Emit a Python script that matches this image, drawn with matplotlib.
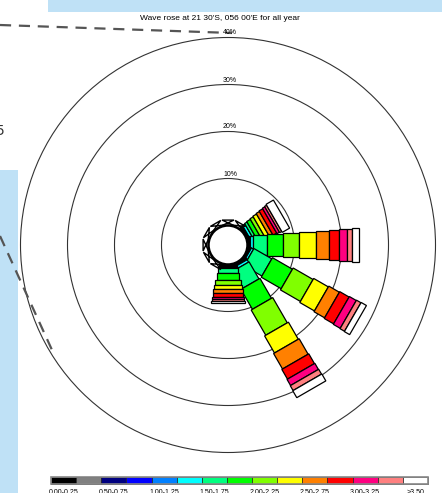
import numpy as np
import matplotlib.pyplot as plt
from matplotlib.patches import Polygon, Circle, Rectangle

# wave height bins (m) and their colours
bin_labels = ['0.00-0.25', '0.25-0.50', '0.50-0.75', '0.75-1.00', '1.00-1.25',
              '1.25-1.50', '1.50-1.75', '1.75-2.00', '2.00-2.25', '2.25-2.50',
              '2.50-2.75', '2.75-3.00', '3.00-3.25', '3.25-3.50', '>3.50']
bin_colors = ['#000000', '#808080', '#000080', '#0000ff', '#0080ff',
              '#00ffff', '#00ff80', '#00ff00', '#80ff00', '#ffff00',
              '#ff8000', '#ff0000', '#ff0080', '#ff8080', '#ffffff']

# directions (deg from north) and frequency (%) per height bin
directions = [60, 90, 120, 150, 180]
freq = [
    [0.05, 0.05, 0.1, 0.15, 0.25, 0.6, 0.6, 0.9, 0.8, 0.9, 0.8, 0.9, 0.6, 0.5, 1.8],
    [0.05, 0.05, 0.1, 0.15, 0.25, 0.6, 2.9, 3.5, 3.4, 3.6, 2.7, 2.2, 1.7, 1.0, 1.5],
    [0.05, 0.05, 0.1, 0.1, 0.2, 0.5, 4.4, 4.9, 4.9, 3.6, 2.6, 2.3, 1.7, 1.1, 1.3],
    [0.05, 0.05, 0.1, 0.15, 0.25, 0.6, 4.2, 4.9, 6.2, 4.2, 3.8, 2.4, 1.5, 1.2, 1.7],
    [0.05, 0.05, 0.1, 0.1, 0.15, 0.25, 1.1, 1.5, 1.1, 0.8, 0.9, 0.8, 0.4, 0.5, 0.4],
]
# directions with almost nothing in them
minor_dirs = [0, 30, 210, 240, 270, 300, 330]
minor_freq = [0.3, 0.3, 0.3, 0.3, 0.3, 0.3, 0.3]

rings = [10, 20, 30, 40]
title = "Wave rose at 21 30'S, 056 00'E for all year"

W, H = 442, 493
fig = plt.figure(figsize=(W / 100, H / 100), dpi=100)
ax = fig.add_axes([0, 0, 1, 1])
ax.set_xlim(0, W)
ax.set_ylim(H, 0)
ax.axis('off')

cx, cy = 228, 245
r0, k = 19.5, 4.7          # calm radius and pixels per percent
w0, w1 = 18, 34            # petal width at root and tip


def rad(p):
    return r0 + k * p


def box(theta, ra, rb, wa, wb):
    t = np.radians(theta)
    u = np.array([np.sin(t), -np.cos(t)])
    v = np.array([np.cos(t), np.sin(t)])
    c = np.array([cx, cy])
    return [c + u * ra - v * wa / 2, c + u * rb - v * wb / 2,
            c + u * rb + v * wb / 2, c + u * ra + v * wa / 2]


# background bits of the slide
blue = '#bfe1f6'
ax.add_patch(Rectangle((48, 0), 394, 12, color=blue, lw=0))
ax.add_patch(Rectangle((0, 170), 18, 323, color=blue, lw=0))
ax.plot([0, 232], [25, 33], color='#555555', lw=1.6, ls=(0, (5, 3.5)))
ax.plot([0, 52], [236, 350], color='#555555', lw=1.6, ls=(0, (5, 3.5)))
ax.text(-4, 131, '5', fontsize=10, color='#333333', va='center', ha='left')

ax.text(220, 18, title, fontsize=6, ha='center', va='center',
        family='Liberation Sans')

for p in rings:
    ax.add_patch(Circle((cx, cy), rad(p), fill=False, ec='#333333', lw=0.8))
    ax.text(cx + 2, cy - rad(p) - 1, '%d%%' % p, fontsize=5, ha='center',
            va='bottom', family='Liberation Sans')

for theta, f in zip(directions, freq):
    cum = np.concatenate([[0], np.cumsum(f)])
    rend = rad(cum[-1])
    for i, col in enumerate(bin_colors):
        ra, rb = rad(cum[i]), rad(cum[i + 1])
        wm = w0 + (w1 - w0) * ((ra + rb) / 2 - r0) / (rend - r0)
        ax.add_patch(Polygon(box(theta, ra, rb, wm, wm), closed=True,
                             fc=col, ec='black', lw=0.9))

for theta, f in zip(minor_dirs, minor_freq):
    pts = box(theta, r0, rad(f) + 4, 12, 12)
    ax.add_patch(Polygon([pts[0], pts[2], pts[1], pts[3]], closed=True,
                         fill=False, ec='black', lw=1.0))

ax.add_patch(Circle((cx, cy), r0, fc='white', ec='black', lw=1.8, zorder=5))

# colour key
x0, x1, yb = 51, 428, 477
cw = (x1 - x0) / len(bin_colors)
for i, col in enumerate(bin_colors):
    ax.add_patch(Rectangle((x0 + i * cw, yb), cw, 7, fc=col, ec='#222222', lw=0.5))
ax.add_patch(Rectangle((x0, yb), x1 - x0, 7, fill=False, ec='#888888', lw=1.2))
for i in range(0, len(bin_labels), 2):
    ax.text(x0 + (i + 0.5) * cw, 488.5, bin_labels[i], fontsize=5, ha='center',
            va='top', family='Liberation Sans')

fig.savefig('out.png', dpi=100)
